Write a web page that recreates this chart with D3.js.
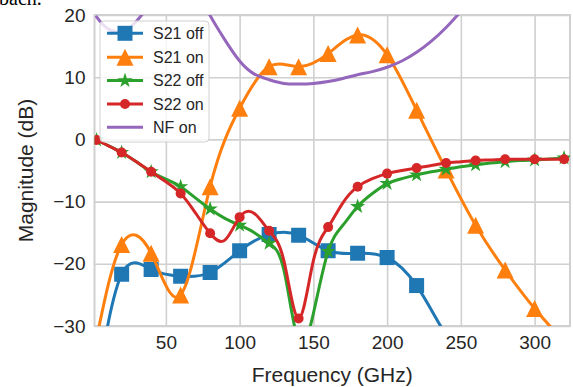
<!DOCTYPE html>
<html><head><meta charset="utf-8">
<script src="https://cdn.jsdelivr.net/npm/d3@7"></script>
<style>body{margin:0;background:#fff} svg{display:block}</style>
</head><body><svg id="c" width="573" height="387"></svg>
<script>
// ---- data ----
const freqs  = [3,20,40,60,80,100,120,140,160,180,200,220,240,260,280,300,320];
const s21Off = [-40,-21.7,-20.9,-22.0,-21.4,-17.9,-15.3,-15.4,-17.9,-18.3,-19.0,-23.5,-31.5,-38,-44,-50,-56];
const s21On  = [-32,-16.9,-18.3,-25.0,-7.6,5.0,11.7,11.7,13.8,16.8,13.6,4.7,-4.9,-13.8,-21.0,-27.2,-32.5];
const freqs10 = [3,10,20,30,40,50,60,70,80,90,100,110,120,130,140,150,160,170,180,190,200,210,220,230,240,250,260,270,280,290,300,310,320];
const s22Off = [-0.1,-0.9,-2.1,-3.6,-5.2,-6.4,-7.6,-9.4,-11.2,-12.7,-13.8,-15.0,-16.7,-21.0,-32.5,-28.0,-18.0,-13.8,-10.8,-8.7,-7.1,-6.3,-5.7,-5.2,-4.8,-4.4,-4.1,-3.8,-3.6,-3.4,-3.3,-3.15,-3.0];
const s22On  = [-0.1,-0.9,-2.1,-3.6,-5.2,-6.8,-8.7,-11.8,-15.1,-16.2,-12.5,-11.9,-14.7,-19.5,-28.8,-19.5,-14.1,-10.2,-7.6,-6.3,-5.5,-5.0,-4.6,-4.2,-3.8,-3.6,-3.4,-3.3,-3.2,-3.2,-3.2,-3.2,-3.2];
const nfFreqs = [3,10,20,30,40,50,60,70,80,90,100,110,120,130,140,150,160,170,180,190,200,210,220,230,240,250,260];
const nfOn    = [19.7,17.9,17.3,19.0,22.0,25.0,26.0,24.0,19.9,16.0,12.6,10.5,9.6,9.0,8.9,9.0,9.3,9.8,10.4,10.9,11.6,12.6,14.0,15.8,18.0,20.6,23.6];
const xTicks = [50,100,150,200,250,300];
const yTicks = [-30,-20,-10,0,10,20];
const seriesNames = ["S21 off","S21 on","S22 off","S22 on","NF on"];

const colors = ["#1f77b4","#ff7f0e","#2ca02c","#d62728","#9467bd"];
const markers = ["square","triangle","star","circle",null];
const FONT = "'Liberation Sans',Arial,sans-serif";

const svg = d3.select("#c");
const L = 94.5, R = 570, T = 15, B = 326;
const x = d3.scaleLinear().domain([1.6, 324]).range([L, R]);
const y = d3.scaleLinear().domain([-30, 20]).range([B, T]);

// partial text at top-left of the crop
svg.append("text").attr("x", -1).attr("y", 5)
  .style("font-family", "'Liberation Serif','Times New Roman',serif").style("font-size", "20px")
  .attr("fill", "#000").text("bach.");

// grid + ticks
svg.append("g").attr("transform", `translate(0,${B})`)
  .call(d3.axisBottom(x).tickValues(xTicks).tickSize(-(B - T)).tickPadding(10))
  .call(a => a.select(".domain").remove())
  .call(a => a.selectAll("line").attr("stroke", "#d0d0d0").attr("stroke-width", 1.6))
  .call(a => a.selectAll("text").attr("fill", "#262626").style("font-family", FONT).style("font-size", "19px"));
svg.append("g").attr("transform", `translate(${L},0)`)
  .call(d3.axisLeft(y).tickValues(yTicks).tickSize(-(R - L)).tickPadding(9)
     .tickFormat(d => d < 0 ? "\u2212" + Math.abs(d) : d))
  .call(a => a.select(".domain").remove())
  .call(a => a.selectAll("line").attr("stroke", "#d0d0d0").attr("stroke-width", 1.6))
  .call(a => a.selectAll("text").attr("fill", "#262626").style("font-family", FONT).style("font-size", "19px"));

// frame
svg.append("rect").attr("x", L).attr("y", T).attr("width", R - L).attr("height", B - T)
  .attr("fill", "none").attr("stroke", "#d0d0d0").attr("stroke-width", 2);

svg.append("clipPath").attr("id", "clip").append("rect")
  .attr("x", L).attr("y", T).attr("width", R - L).attr("height", B - T);

const plot = svg.append("g").attr("clip-path", "url(#clip)");
const line = d3.line().x(d => x(d[0])).y(d => y(d[1])).curve(d3.curveNatural);

function markerPath(type) {
  if (type === "square") return d3.symbol(d3.symbolSquare, 15 * 15)();
  if (type === "triangle") return "M0,-8.5L8.5,8.5L-8.5,8.5Z";
  if (type === "star") {
    const ro = 8, ri = ro * 0.382; let p = "";
    for (let i = 0; i < 10; i++) {
      const r = i % 2 ? ri : ro, a = -Math.PI / 2 + i * Math.PI / 5;
      p += (i ? "L" : "M") + (r * Math.cos(a)).toFixed(2) + "," + (r * Math.sin(a)).toFixed(2);
    }
    return p + "Z";
  }
  if (type === "circle") return d3.symbol(d3.symbolCircle, Math.PI * 5 * 5)();
  return null;
}

const all = [
  freqs.map((f, i) => [f, s21Off[i]]),
  freqs.map((f, i) => [f, s21On[i]]),
  freqs10.map((f, i) => [f, s22Off[i]]),
  freqs10.map((f, i) => [f, s22On[i]]),
  nfFreqs.map((f, i) => [f, nfOn[i]])
];
const isMarked = f => f === freqs[0] || f % 20 === 0;

all.forEach((data, k) => {
  plot.append("path").datum(data).attr("d", line)
    .attr("fill", "none").attr("stroke", colors[k]).attr("stroke-width", 3)
    .attr("stroke-linejoin", "round").attr("stroke-linecap", "round");
  if (markers[k]) {
    plot.selectAll(null).data(data.filter(d => isMarked(d[0]))).enter().append("path")
      .attr("d", markerPath(markers[k]))
      .attr("transform", d => `translate(${x(d[0])},${y(d[1])})`)
      .attr("fill", colors[k]);
  }
});

// axis labels
svg.append("text").attr("x", (L + R) / 2 + 0).attr("y", 382).attr("text-anchor", "middle")
  .attr("fill", "#262626").style("font-family", FONT).style("font-size", "21px")
  .text("Frequency (GHz)");
svg.append("text").attr("transform", `translate(33,${(T + B) / 2}) rotate(-90)`).attr("text-anchor", "middle")
  .attr("fill", "#262626").style("font-family", FONT).style("font-size", "21px")
  .text("Magnitude (dB)");

// legend
const lg = svg.append("g");
lg.append("rect").attr("x", 100).attr("y", 21).attr("width", 109).attr("height", 121).attr("rx", 4)
  .attr("fill", "#fff").attr("fill-opacity", 0.8).attr("stroke", "#d0d0d0").attr("stroke-width", 1);
const rowY = [33.3, 57.2, 80.6, 104, 127.3];
seriesNames.forEach((name, k) => {
  const yy = rowY[k];
  lg.append("line").attr("x1", 107).attr("x2", 143).attr("y1", yy).attr("y2", yy)
    .attr("stroke", colors[k]).attr("stroke-width", 3);
  if (markers[k]) lg.append("path").attr("d", markerPath(markers[k]))
    .attr("transform", `translate(125,${yy})`).attr("fill", colors[k]);
  lg.append("text").attr("x", 153).attr("y", yy).attr("dy", "0.35em")
    .attr("fill", "#262626").style("font-family", FONT).style("font-size", "16px")
    .text(name);
});
</script></body></html>
